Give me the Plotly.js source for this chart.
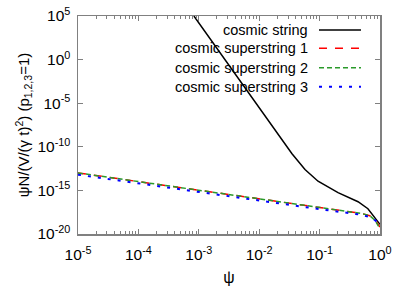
<!DOCTYPE html>
<html>
<head>
<meta charset="utf-8">
<script src="https://cdn.plot.ly/plotly-3.0.1.min.js"></script>
<style>html,body{margin:0;padding:0;background:#fff;}#chart{width:409px;height:286px;}</style>
</head>
<body>
<div id="chart"></div>
<script>
// ---- data ----
const seriesNames = ["cosmic string", "cosmic superstring 1", "cosmic superstring 2", "cosmic superstring 3"];

const stringX = [8.3e-4, 4.8e-3, 0.02, 0.0257, 0.0349, 0.0573, 0.0942, 0.202, 0.433, 0.631, 1];
const stringY = [1e5, 3.55e-3, 4.0e-9, 3.5e-10, 1.58e-11, 2.5e-13, 1.12e-14, 5.6e-16, 5.0e-17, 7.9e-18, 1.26e-19];

const super1X = [1e-5, 1e-4, 1e-3, 1e-2, 1e-1, 0.5, 0.676, 0.832, 1];
const super1Y = [1e-13, 1e-14, 1.07e-15, 1.12e-16, 1.12e-17, 2.24e-18, 1.26e-18, 3.98e-19, 6.3e-20];

const super2X = [1e-5, 1e-4, 1e-3, 1e-2, 1e-1, 0.5, 0.676, 0.832, 1];
const super2Y = [1e-13, 1e-14, 1.07e-15, 1.12e-16, 1.12e-17, 2.24e-18, 1.26e-18, 3.55e-19, 4.0e-20];

const super3X = [1e-5, 1e-4, 1e-3, 1e-2, 1e-1, 0.5, 0.741, 1];
const super3Y = [6.3e-14, 6.3e-15, 6.3e-16, 6.3e-17, 7.08e-18, 1.58e-18, 7.08e-19, 1.26e-19];

const xTickVals = [1e-5, 1e-4, 1e-3, 1e-2, 1e-1, 1];
const xTickText = ["10<sup>-5</sup>", "10<sup>-4</sup>", "10<sup>-3</sup>", "10<sup>-2</sup>", "10<sup>-1</sup>", "10<sup>0</sup>"];
const yTickVals = [1e-20, 1e-15, 1e-10, 1e-5, 1, 1e5];
const yTickText = ["10<sup>-20</sup>", "10<sup>-15</sup>", "10<sup>-10</sup>", "10<sup>-5</sup>", "10<sup>0</sup>", "10<sup>5</sup>"];

// ---- styles ----
const colors = ["#000000", "#ff0000", "#2a9a2a", "#0000ff"];
const dashes = ["solid", "8px,8px", "5px,3px", "3px,7px"];
const widths = [1.5, 1.5, 1.5, 2];
const FONT = "Liberation Sans, Arial, Helvetica, sans-serif";

const xs = [stringX, super1X, super2X, super3X];
const ys = [stringY, super1Y, super2Y, super3Y];

const traces = seriesNames.map((n, i) => ({
  x: xs[i], y: ys[i], name: n, type: "scatter", mode: "lines",
  line: {color: colors[i], dash: dashes[i], width: widths[i]},
  showlegend: false, hoverinfo: "skip"
}));

// manual gnuplot-style legend (text right, sample to the right)
const legendRowsY = [0.936, 0.852, 0.763, 0.676];
const annotations = seriesNames.map((n, i) => ({
  xref: "paper", yref: "paper", x: 0.768, y: legendRowsY[i],
  xanchor: "right", yanchor: "middle", text: n, showarrow: false,
  font: {family: FONT, size: 14.5, color: "#000"}
}));
const shapes = seriesNames.map((n, i) => ({
  type: "line", xref: "paper", yref: "paper",
  x0: 0.798, x1: 0.937, y0: legendRowsY[i], y1: legendRowsY[i],
  line: {color: colors[i], dash: dashes[i], width: widths[i]}
}));

const axisCommon = {
  type: "log", showgrid: false, zeroline: false,
  showline: true, linecolor: "#808080", linewidth: 1.5, mirror: "allticks",
  ticks: "inside", ticklen: 5, tickcolor: "#808080", tickwidth: 1,
  tickfont: {family: FONT, size: 15.5, color: "#000"}
};

const layout = {
  width: 409, height: 286,
  margin: {l: 78, r: 29, t: 16, b: 52},
  paper_bgcolor: "#fff", plot_bgcolor: "#fff",
  showlegend: false,
  font: {family: FONT, size: 14, color: "#000"},
  xaxis: Object.assign({}, axisCommon, {
    range: [-5, 0], tickmode: "array", tickvals: xTickVals, ticktext: xTickText,
    ticklabelstandoff: 6,
    minor: {ticks: "inside", ticklen: 3, tickcolor: "#808080", dtick: "D1", showgrid: false},
    title: {text: "ψ", font: {family: FONT, size: 16, color: "#000"}, standoff: 18}
  }),
  yaxis: Object.assign({}, axisCommon, {
    range: [-20, 5], tickmode: "array", tickvals: yTickVals, ticktext: yTickText,
    ticklabelstandoff: 3,
    title: {text: "ψN/(V/(γ t)<sup>2</sup>) (p<sub>1,2,3</sub>=1)", font: {family: FONT, size: 15, color: "#000"}, standoff: 4}
  }),
  annotations: annotations,
  shapes: shapes
};

Plotly.newPlot("chart", traces, layout, {staticPlot: true, displayModeBar: false});
</script>
</body>
</html>
